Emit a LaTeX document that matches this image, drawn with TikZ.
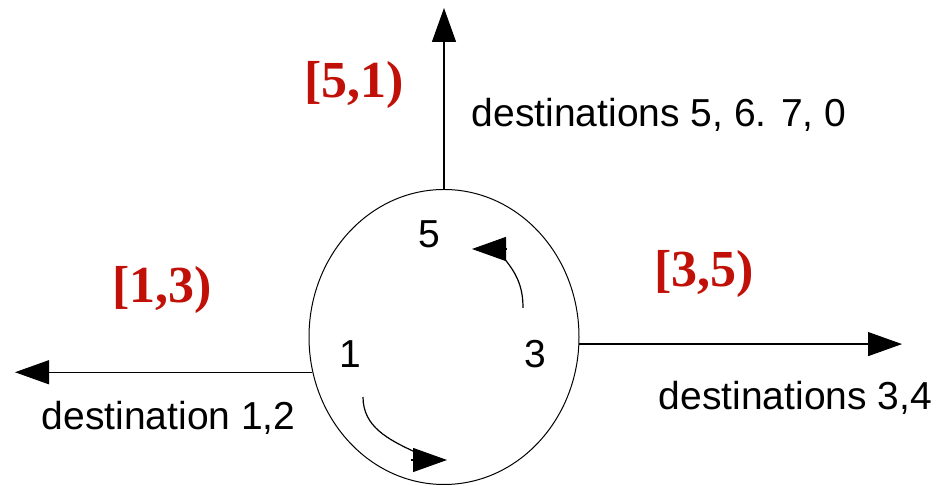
\documentclass[tikz,border=0pt]{standalone}
\usepackage{fontspec}
\setmainfont{Liberation Sans}
\newfontfamily\tnr{Liberation Serif}
\usetikzlibrary{arrows.meta,shapes.geometric}
\definecolor{ivred}{RGB}{192,16,8}
\begin{document}
\begin{tikzpicture}[x=1pt,y=1pt,
  line/.style={line width=1.2pt},
  conn/.style={line width=1.2pt,-{Triangle[length=34pt,width=24pt]}},
  lbl/.style={font=\fontsize{39}{44}\selectfont, inner sep=0pt, anchor=base west},
  num/.style={font=\fontsize{39}{44}\selectfont, inner sep=0pt, anchor=base},
  rng/.style={font=\tnr\bfseries\fontsize{52}{56}\selectfont, text=ivred, inner sep=0pt, anchor=base west}]
\useasboundingbox (0,0) rectangle (938,486);
\node[draw, ellipse, line width=1pt, minimum width=270pt, minimum height=295pt, inner sep=0pt] (ring) at (444,149) {};
% arrow ends
\coordinate (tt) at (444,478);
\coordinate (lt) at (15,0);
\coordinate (rt) at (902,0);
\draw[conn] (ring.north) -- (ring.north |- tt);
\draw[conn] (ring.195) -- (ring.195 -| lt);
\draw[conn] (ring.357) -- (ring.357 -| rt);
% inner circulation arrows
\coordinate (a1s) at (363,89);
\coordinate (a1c) at (415,34);
\coordinate (a1b) at (411,26);
\coordinate (a1e) at (447,26);
\coordinate (a2s) at (523,178);
\coordinate (a2c) at (503,229);
\coordinate (a2b) at (507,237);
\coordinate (a2e) at (472,237);
\draw[line] (a1s) to[out=-90,in=155] (a1c);
\draw[conn] (a1b) -- (a1e);
\draw[line] (a2s) to[out=90,in=-50] (a2c);
\draw[conn] (a2b) -- (a2e);
% ring positions
\node[num] (n5) at (429,238) {5};
\node[num] (n1) at (350,118) {1};
\node[num] (n3) at (535,118) {3};
% destination labels
\node[lbl] (d12) at (41.6,56) {destination 1,2};
\node[lbl] (d34) at (658.6,76) {destinations 3,4};
\node[lbl] (d5) at (471.6,359) {destinations 5, 6. 7, 0};
% ranges
\node[rng] (r13) at (112,183) {[1,3)};
\node[rng] (r35) at (654,199) {[3,5)};
\node[rng] (r51) at (304,388) {[5,1)};
\end{tikzpicture}
\end{document}
